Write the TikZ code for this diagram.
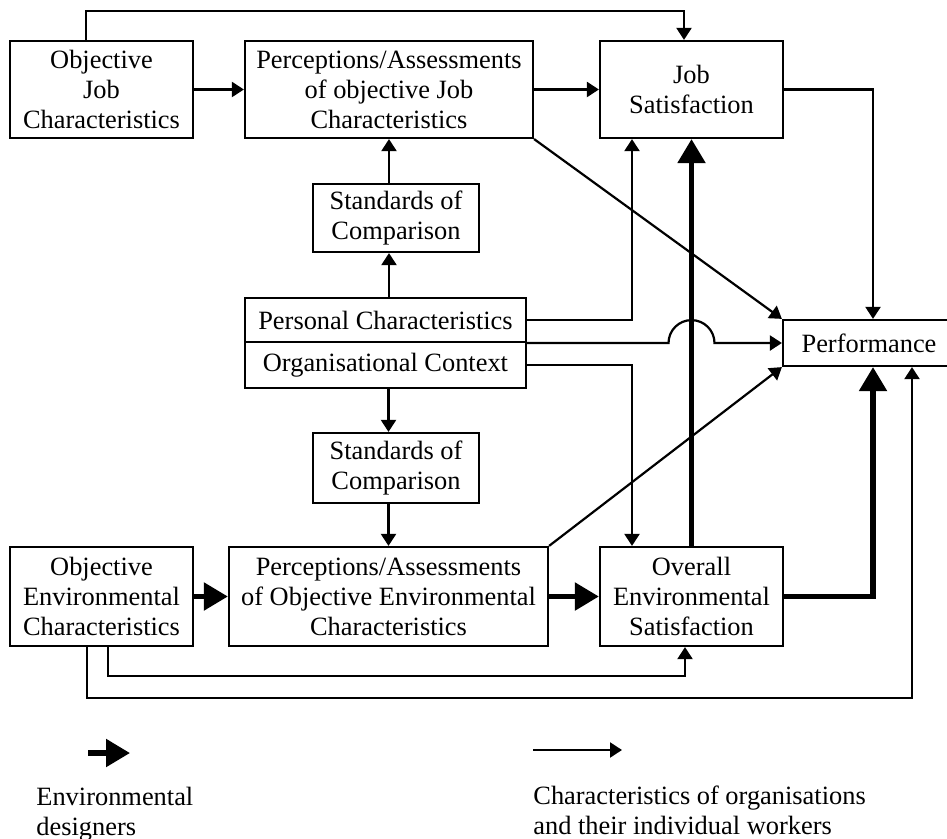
\documentclass[tikz,border=0pt]{standalone}
\usepackage{fontspec}
\setmainfont{Liberation Serif}
\usetikzlibrary{arrows.meta}
\begin{document}
\begin{tikzpicture}[x=0.5pt,y=-0.5pt,
  font=\fontsize{13.2pt}{15pt}\selectfont,
  box/.style={draw,line width=1.1pt,align=center,inner sep=0pt},
  lightarrow/.style={line width=1.1pt,-{Triangle[length=6pt,width=7.5pt]}},
  heavyarrow/.style={line width=2.6pt,-{Triangle[length=12pt,width=13.5pt]}}]
  \useasboundingbox (0,0) rectangle (947,839);
  % top row
  \node[box,minimum width=91.5pt,minimum height=48.5pt] (ojc) at (101.5,89.5) {Objective\\Job\\Characteristics};
  \node[box,minimum width=144pt,minimum height=48.5pt] (pj) at (389,89.5) {Perceptions/Assessments\\of objective Job\\Characteristics};
  \node[box,minimum width=91.5pt,minimum height=48.5pt] (js) at (691.5,89.5) {Job\\Satisfaction};
  % middle
  \node[box,minimum width=83pt,minimum height=34pt] (std1) at (396,218) {Standards of\\Comparison};
  \node[box,minimum width=140.5pt,minimum height=22pt] (pc) at (385.5,320) {Personal Characteristics};
  \node[box,minimum width=140.5pt,minimum height=23pt] (oc) at (385.5,365) {Organisational Context};
  \node[box,minimum width=86pt,minimum height=23pt] (perf) at (869,343) {Performance};
  \node[box,minimum width=83pt,minimum height=35pt] (std2) at (396,468) {Standards of\\Comparison};
  % bottom row
  \node[box,minimum width=91.5pt,minimum height=49.5pt] (oec) at (101.5,596.5) {Objective\\Environmental\\Characteristics};
  \node[box,minimum width=159.5pt,minimum height=49.5pt] (pe) at (388.5,596.5) {Perceptions/Assessments\\of Objective Environmental\\Characteristics};
  \node[box,minimum width=91.5pt,minimum height=49.5pt] (oes) at (691.5,596.5) {Overall\\Environmental\\Satisfaction};
  \coordinate (hop) at (oes.north |- pc.south east);

  \draw[lightarrow] ([xshift=-7.75pt]ojc.north) -- ++(0,-29) -| ([xshift=-3.75pt]js.north);
  \draw[lightarrow] (ojc.east) -- (pj.west);
  \draw[lightarrow] (pj.east) -- (js.west);
  \draw[lightarrow] (js.east) -| ([xshift=2pt]perf.north);
  \draw[lightarrow] (pj.south east) -- (perf.north west);
  \draw[lightarrow] (std1.north -| pj.south) -- (pj.south);
  \draw[lightarrow] (pc.north -| pj.south) -- (std1.south -| pj.south);
  \draw[lightarrow] (pc.east) -| ([xshift=-29.75pt]js.south);
  \draw[lightarrow] (oc.east) -| ([xshift=-29.75pt]oes.north);
  \draw[lightarrow] (pc.south east) -- ([xshift=-11.5pt]hop)
    arc[start angle=180,end angle=0,radius=11.5pt] -- (perf.west);
  \draw[lightarrow] (oc.south -| pe.north) -- (std2.north -| pe.north);
  \draw[lightarrow] (std2.south -| pe.north) -- (pe.north);
  \draw[lightarrow] (pe.north east) -- (perf.south west);
  \draw[lightarrow] ([xshift=3.25pt]oec.south) -- ++(0,29) -| ([xshift=-3.25pt]oes.south);
  \draw[lightarrow] ([xshift=-7.25pt]oec.south) -- ++(0,51) -| ([xshift=21.5pt]perf.south);

  \draw[heavyarrow] (oes.north) -- (js.south);
  \draw[heavyarrow] (oec.east) -- (pe.west);
  \draw[heavyarrow] (pe.east) -- (oes.west);
  \draw[heavyarrow] (oes.east) -| ([xshift=2pt]perf.south);

  % key
  \coordinate (envA) at (88,753);
  \coordinate (envB) at (130,753);
  \coordinate (orgA) at (533,750);
  \coordinate (orgB) at (622,750);
  \draw[heavyarrow] (envA) -- (envB);
  \draw[lightarrow] (orgA) -- (orgB);
  \node[anchor=north west,align=left,inner sep=0pt] (envkey) at (36,787) {Environmental\\designers};
  \node[anchor=north west,align=left,inner sep=0pt] (orgkey) at (533,786) {Characteristics of organisations\\and their individual workers};
\end{tikzpicture}
\end{document}
